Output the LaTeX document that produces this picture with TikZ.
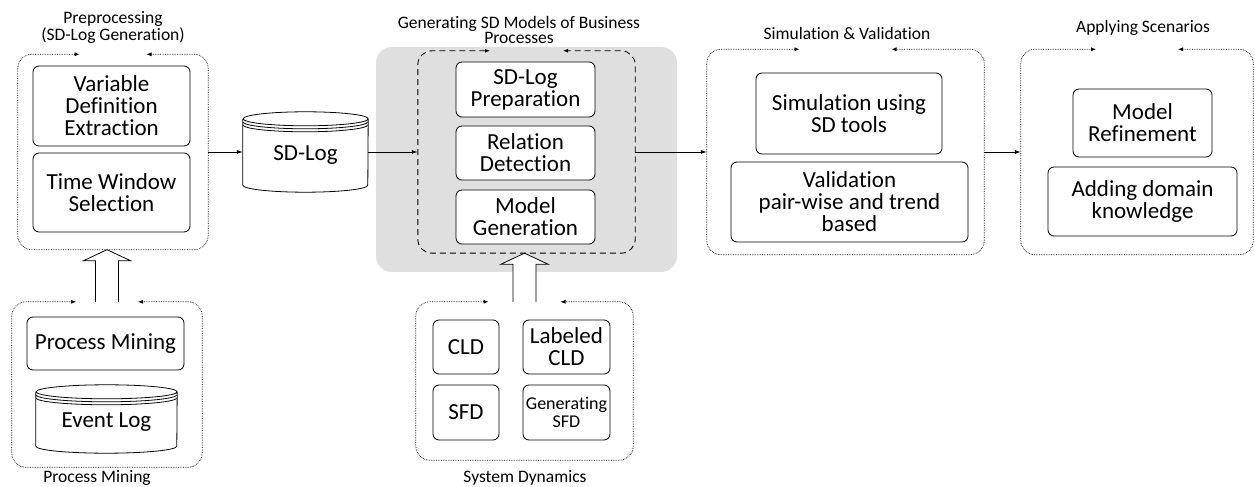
\documentclass[tikz,border=0pt]{standalone}
\usepackage{fontspec}
\setmainfont{Carlito}[Ligatures=NoCommon]
\usetikzlibrary{calc}
\usetikzlibrary{arrows.meta}

\newcommand{\boxfont}{\fontsize{23}{22}\selectfont}
\newcommand{\titlefont}{\fontsize{17.5}{15}\selectfont}
\newcommand{\smallfont}{\fontsize{18}{18}\selectfont}
\tikzset{
  stage/.style={draw, rounded corners=6pt, line width=0.8pt, fill=white, align=center,
    font=\boxfont, inner sep=1pt},
  area/.style 2 args={inner sep=0pt, minimum width=#1, minimum height=#2},
  frame/.style={densely dotted, line width=0.7pt, rounded corners=14pt,
    {Latex[length=5pt,width=4pt]}-{Latex[length=5pt,width=4pt]}},
  dashframe/.style={frame, dash pattern=on 6pt off 4pt, line width=0.9pt},
  flow/.style={line width=0.8pt, -{Latex[length=6pt,width=4pt]}},
  hollow/.style={line width=0.8pt, fill=white},
  title/.style={align=center, font=\titlefont},
}
% dotted box with a gap in the top edge, arrows pointing into the gap
\newcommand{\openframe}[3][frame]{%
  \draw[#1] ($(#2.north)+(-#3,0)$) -| (#2.south west) -| (#2.north east) -- ($(#2.north)+(#3,0)$);}
% log store drawn round a node
\newcommand{\logstore}[2]{%
  \draw[line width=0.8pt, fill=white]
    ($(#1.north west)+(0,-7)$) -- ($(#1.south west)+(0,7)$)
    arc[start angle=180, end angle=360, x radius=#2, y radius=7]
    -- ($(#1.north east)+(0,-7)$)
    arc[start angle=0, end angle=360, x radius=#2, y radius=7];
  \draw[line width=0.8pt] ($(#1.north west)+(0,-10)$)
    arc[start angle=180, end angle=360, x radius=#2, y radius=7];
  \draw[line width=0.8pt] ($(#1.north west)+(0,-13)$)
    arc[start angle=180, end angle=360, x radius=#2, y radius=7];}
% open block arrow from the top of one box up to another
\newcommand{\blockarrow}[2]{%
  \draw[hollow] ($(#1.north)+(-11.5,0)$) -- ($(#1.north |- #2.south)+(-11.5,-11)$)
    -- ++(-12,0) -- (#1.north |- #2.south) -- ++(23.5,-11) -- ++(-12,0)
    -- ($(#1.north)+(11.5,0)$);}

\begin{document}
\begin{tikzpicture}[x=1pt, y=1pt]
  \useasboundingbox (0,0) rectangle (1255,487);

  % grey background of the generation step
  \node[area={301pt}{225pt}, fill=gray!25, rounded corners=16pt] (genbg) at (526.5,327.5) {};

  % group areas
  \node[area={190pt}{195pt}] (pre) at (113,335) {};
  \node[area={190pt}{165pt}] (pmbox) at (107,102.5) {};
  \node[area={217pt}{202pt}] (gendash) at (526.5,335) {};
  \node[area={217pt}{158pt}] (sdbox) at (524.5,106) {};
  \node[area={277pt}{205pt}] (sim) at (845.5,335) {};
  \node[area={232pt}{205pt}] (app) at (1137,335) {};

  \openframe{pre}{33.5}
  \openframe{pmbox}{31}
  \openframe[dashframe]{gendash}{36.5}
  \openframe{sdbox}{36}
  \openframe{sim}{46}
  \openframe{app}{41}

  \node[title] (pretitle) at (113,459.5) {Preprocessing\\(SD-Log Generation)};
  \node[title] (gentitle) at (519,457.5) {Generating SD Models of Business\\Processes};
  \node[title] (simtitle) at (847,454) {Simulation \& Validation};
  \node[title] (apptitle) at (1143,459) {Applying Scenarios};
  \node[title] (pmtitle) at (97,9) {Process Mining};
  \node[title] (sdtitle) at (525,9) {System Dynamics};

  % log stores
  \node[area={125pt}{80pt}] (sdlog) at (305.5,335) {};
  \logstore{sdlog}{62.5}
  \node[font=\boxfont] at ($(sdlog.center)+(0,-3)$) {SD-Log};
  \node[area={141pt}{68pt}] (eventlog) at (106.5,68) {};
  \logstore{eventlog}{70.5}
  \node[font=\boxfont] at ($(eventlog.center)+(0,-3)$) {Event Log};

  % main flow
  \draw[flow] (pre.east) -- (sdlog.west);
  \draw[flow] (sdlog.east) -- (gendash.west);
  \draw[flow] (gendash.east) -- (sim.west);
  \draw[flow] (sim.east) -- (app.west);

  \blockarrow{pmbox}{pre}
  \blockarrow{sdbox}{gendash}

  % steps
  \node[stage, minimum width=157pt, minimum height=80pt] (vardef) at (111.5,381) {Variable\\Definition\\Extraction};
  \node[stage, minimum width=157pt, minimum height=79pt] (timewin) at (111.5,294.5) {Time Window\\Selection};
  \node[stage, minimum width=157pt, minimum height=53pt] (procmine) at (105.5,143.5) {Process Mining};

  \node[stage, minimum width=139pt, minimum height=55pt] (logprep) at (525.5,397.5) {SD-Log\\Preparation};
  \node[stage, minimum width=139pt, minimum height=54pt] (reldet) at (525.5,334) {Relation\\Detection};
  \node[stage, minimum width=139pt, minimum height=54pt] (modgen) at (525.5,270) {Model\\Generation};

  \node[stage, minimum width=66pt, minimum height=54pt] (cld) at (466,140) {CLD};
  \node[stage, minimum width=87pt, minimum height=54pt] (labcld) at (566.5,140) {Labeled\\CLD};
  \node[stage, minimum width=66pt, minimum height=55pt] (sfd) at (466,74.5) {SFD};
  \node[stage, minimum width=87pt, minimum height=55pt, font=\smallfont] (gensfd) at (566.5,74.5) {Generating\\SFD};

  \node[stage, minimum width=186pt, minimum height=81pt] (simtool) at (849,373.5) {Simulation using\\SD tools};
  \node[stage, minimum width=237pt, minimum height=80pt] (valid) at (849.5,285) {Validation\\pair-wise and trend\\based};

  \node[stage, minimum width=139pt, minimum height=68pt] (refine) at (1142.5,364) {Model\\Refinement};
  \node[stage, minimum width=189pt, minimum height=69pt] (domain) at (1142.5,285.5) {Adding domain\\knowledge};
\end{tikzpicture}
\end{document}
